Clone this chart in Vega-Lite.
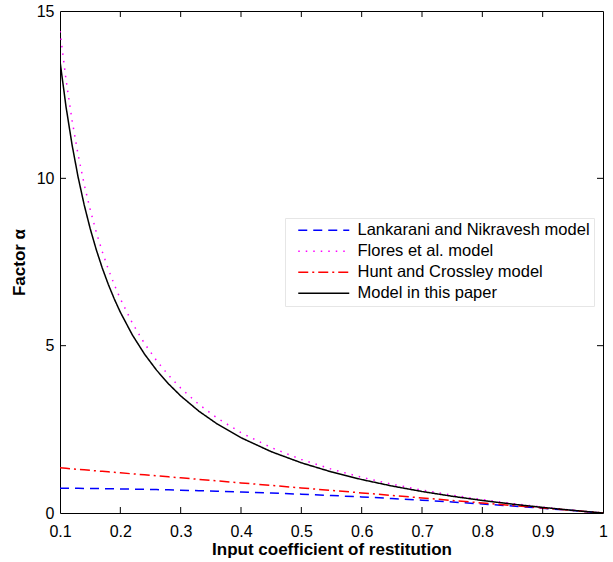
{
  "$schema": "https://vega.github.io/schema/vega-lite/v6.json",
  "width": 543,
  "height": 502,
  "autosize": "none",
  "padding": {"left": 60, "top": 11, "right": 10, "bottom": 49},
  "background": "white",
  "config": {
    "view": {"stroke": "black", "strokeWidth": 1},
    "font": "Liberation Sans",
    "axis": {"grid": false, "domainColor": "black", "tickColor": "black", "labelColor": "black", "titleColor": "black", "labelFont": "Liberation Sans", "titleFont": "Liberation Sans"}
  },
  "datasets": {
    "wide": [
      {"e": 0.10, "LN": 0.7425, "F": 14.4, "HC": 1.35, "M": 13.5},
      {"e": 0.11, "LN": 0.7409, "F": 12.945, "HC": 1.335, "M": 12.136},
      {"e": 0.12, "LN": 0.7392, "F": 11.733, "HC": 1.32, "M": 11.0},
      {"e": 0.13, "LN": 0.7373, "F": 10.708, "HC": 1.305, "M": 10.038},
      {"e": 0.14, "LN": 0.7353, "F": 9.829, "HC": 1.29, "M": 9.214},
      {"e": 0.15, "LN": 0.7331, "F": 9.067, "HC": 1.275, "M": 8.5},
      {"e": 0.16, "LN": 0.7308, "F": 8.4, "HC": 1.26, "M": 7.875},
      {"e": 0.17, "LN": 0.7283, "F": 7.812, "HC": 1.245, "M": 7.324},
      {"e": 0.18, "LN": 0.7257, "F": 7.289, "HC": 1.23, "M": 6.833},
      {"e": 0.19, "LN": 0.7229, "F": 6.821, "HC": 1.215, "M": 6.395},
      {"e": 0.20, "LN": 0.72, "F": 6.4, "HC": 1.2, "M": 6.0},
      {"e": 0.22, "LN": 0.7137, "F": 5.673, "HC": 1.17, "M": 5.318},
      {"e": 0.24, "LN": 0.7068, "F": 5.067, "HC": 1.14, "M": 4.75},
      {"e": 0.26, "LN": 0.6993, "F": 4.554, "HC": 1.11, "M": 4.269},
      {"e": 0.28, "LN": 0.6912, "F": 4.114, "HC": 1.08, "M": 3.857},
      {"e": 0.30, "LN": 0.6825, "F": 3.733, "HC": 1.05, "M": 3.5},
      {"e": 0.33, "LN": 0.6683, "F": 3.248, "HC": 1.005, "M": 3.045},
      {"e": 0.36, "LN": 0.6528, "F": 2.844, "HC": 0.96, "M": 2.667},
      {"e": 0.40, "LN": 0.63, "F": 2.4, "HC": 0.9, "M": 2.25},
      {"e": 0.45, "LN": 0.5981, "F": 1.956, "HC": 0.825, "M": 1.833},
      {"e": 0.50, "LN": 0.5625, "F": 1.6, "HC": 0.75, "M": 1.5},
      {"e": 0.55, "LN": 0.5231, "F": 1.309, "HC": 0.675, "M": 1.227},
      {"e": 0.60, "LN": 0.48, "F": 1.067, "HC": 0.6, "M": 1.0},
      {"e": 0.65, "LN": 0.4331, "F": 0.8615, "HC": 0.525, "M": 0.8077},
      {"e": 0.70, "LN": 0.3825, "F": 0.6857, "HC": 0.45, "M": 0.6429},
      {"e": 0.75, "LN": 0.3281, "F": 0.5333, "HC": 0.375, "M": 0.5},
      {"e": 0.80, "LN": 0.27, "F": 0.4, "HC": 0.3, "M": 0.375},
      {"e": 0.85, "LN": 0.2081, "F": 0.2824, "HC": 0.225, "M": 0.2647},
      {"e": 0.90, "LN": 0.1425, "F": 0.1778, "HC": 0.15, "M": 0.1667},
      {"e": 0.95, "LN": 0.0731, "F": 0.0842, "HC": 0.075, "M": 0.0789},
      {"e": 1.00, "LN": 0, "F": 0, "HC": 0, "M": 0}
    ],
    "xticksBottom": [
      {"v": 0.2, "at": 0}, {"v": 0.3, "at": 0}, {"v": 0.4, "at": 0}, {"v": 0.5, "at": 0}, {"v": 0.6, "at": 0}, {"v": 0.7, "at": 0}, {"v": 0.8, "at": 0}, {"v": 0.9, "at": 0}
    ],
    "xticksTop": [
      {"v": 0.2, "at": 15}, {"v": 0.3, "at": 15}, {"v": 0.4, "at": 15}, {"v": 0.5, "at": 15}, {"v": 0.6, "at": 15}, {"v": 0.7, "at": 15}, {"v": 0.8, "at": 15}, {"v": 0.9, "at": 15}
    ],
    "yticksLeft": [
      {"v": 5, "at": 0.1}, {"v": 10, "at": 0.1}
    ],
    "yticksRight": [
      {"v": 5, "at": 1}, {"v": 10, "at": 1}
    ]
  },
  "layer": [
    {
      "data": {"name": "wide"},
      "transform": [
        {"fold": ["LN", "F", "HC", "M"], "as": ["model", "alpha"]}
      ],
      "mark": {"type": "line", "strokeWidth": 1.5, "clip": true},
      "encoding": {
        "x": {"field": "e", "type": "quantitative", "scale": {"domain": [0.1, 1], "nice": false, "zero": false},
          "axis": {"title": "Input coefficient of restitution", "values": [0.1,0.2,0.3,0.4,0.5,0.6,0.7,0.8,0.9,1], "format": ".1~f", "labelFontSize": 16, "titleFontSize": 17, "titleFontWeight": "bold", "ticks": false, "labelPadding": 10, "titlePadding": 2, "domain": false, "labelFlush": false}},
        "y": {"field": "alpha", "type": "quantitative", "scale": {"domain": [0, 15], "nice": false},
          "axis": {"title": "Factor α", "values": [0, 5, 10, 15], "labelFontSize": 16, "titleFontSize": 17, "titleFontWeight": "bold", "ticks": false, "labelPadding": 6, "titlePadding": 8, "domain": false, "labelFlush": false}},
        "color": {"field": "model", "type": "nominal",
          "scale": {"domain": ["LN", "F", "HC", "M"], "range": ["#0000ff", "#ff00ff", "#ff0000", "#000000"]},
          "legend": {"title": null, "orient": "none", "legendX": 225, "legendY": 207, "fillColor": "white", "strokeColor": "#e6e6e6", "padding": 4, "symbolOffset": 6, "labelFontSize": 16.5, "labelFont": "Liberation Sans", "labelColor": "black", "labelLimit": 400, "symbolType": "M-1,0H9.2", "symbolSize": 100, "symbolStrokeWidth": 1.5, "rowPadding": 4, "labelOffset": 46,
            "labelExpr": "datum.value == 'LN' ? 'Lankarani and Nikravesh model' : datum.value == 'F' ? 'Flores et al. model' : datum.value == 'HC' ? 'Hunt and Crossley model' : 'Model in this paper'"}},
        "strokeDash": {"field": "model", "type": "nominal",
          "scale": {"domain": ["LN", "F", "HC", "M"], "range": [[9, 6], [1.5, 6], [10, 4, 2, 4], [1, 0]]},
          "legend": null}
      }
    },
    {
      "data": {"name": "xticksBottom"},
      "mark": {"type": "tick", "orient": "vertical", "size": 6, "thickness": 1, "color": "black", "opacity": 1, "yOffset": -3},
      "encoding": {
        "x": {"field": "v", "type": "quantitative", "axis": null},
        "y": {"field": "at", "type": "quantitative", "axis": null}
      }
    },
    {
      "data": {"name": "xticksTop"},
      "mark": {"type": "tick", "orient": "vertical", "size": 6, "thickness": 1, "color": "black", "opacity": 1, "yOffset": 3},
      "encoding": {
        "x": {"field": "v", "type": "quantitative", "axis": null},
        "y": {"field": "at", "type": "quantitative", "axis": null}
      }
    },
    {
      "data": {"name": "yticksLeft"},
      "mark": {"type": "tick", "orient": "horizontal", "size": 6, "thickness": 1, "color": "black", "opacity": 1, "xOffset": 3},
      "encoding": {
        "x": {"field": "at", "type": "quantitative", "axis": null},
        "y": {"field": "v", "type": "quantitative", "axis": null}
      }
    },
    {
      "data": {"name": "yticksRight"},
      "mark": {"type": "tick", "orient": "horizontal", "size": 6, "thickness": 1, "color": "black", "opacity": 1, "xOffset": -3},
      "encoding": {
        "x": {"field": "at", "type": "quantitative", "axis": null},
        "y": {"field": "v", "type": "quantitative", "axis": null}
      }
    }
  ],
  "resolve": {"axis": {"x": "independent", "y": "independent"}}
}
